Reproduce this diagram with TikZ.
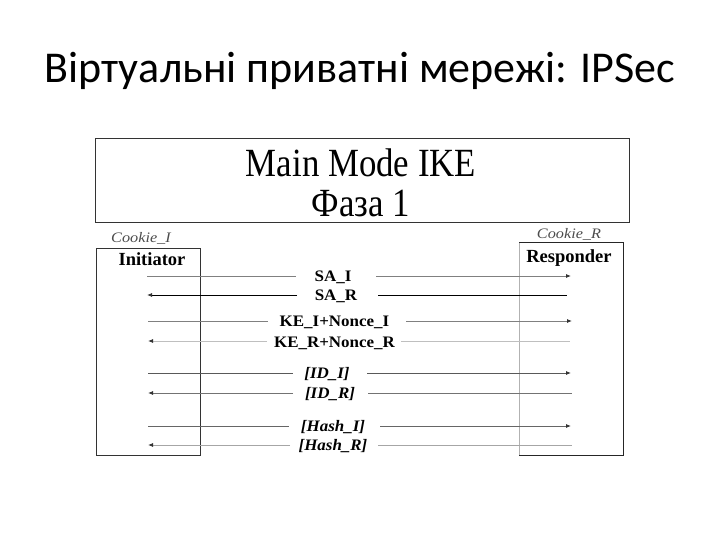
\documentclass[tikz,border=0pt]{standalone}
\usepackage{fontspec}
\setmainfont{Liberation Serif}
\newfontfamily\titlefont{Carlito}
\newfontfamily\diag[FakeStretch=1.06]{Liberation Serif}
\newfontfamily\boxfont[FakeStretch=0.87]{Liberation Serif}
\newfontfamily\cookiefont[FakeStretch=1.12]{Liberation Serif}
\usetikzlibrary{arrows.meta}
\begin{document}
\begin{tikzpicture}[x=1pt,y=-1pt,
  msg/.style={line width=0.8pt},
  arr/.style={msg, -{Latex[length=5pt,width=4pt,fill=black!80,color=black!80]}},
  lbl/.style={inner sep=0pt, anchor=base, font=\diag\fontsize{16}{16}\selectfont\bfseries},
  ilbl/.style={lbl, font=\diag\fontsize{16}{16}\selectfont\bfseries\itshape},
  party/.style={inner sep=0pt, anchor=base, font=\fontsize{18.5}{18.5}\selectfont\bfseries},
  cookie/.style={inner sep=0pt, anchor=base, font=\cookiefont\fontsize{14.5}{14.5}\selectfont\itshape, text=black!70},
  heading/.style={inner sep=0pt, anchor=base, font=\boxfont\fontsize{40}{40}\selectfont}]
\useasboundingbox (0,0) rectangle (720,540);
\node[font=\titlefont\fontsize{44}{44}\selectfont, anchor=base, inner sep=0pt] (title) at (360,83) {Віртуальні приватні мережі: IPSec};
% top box
\coordinate (tl) at (95,138); \coordinate (br) at (629,222);
\draw[black!80, line width=0.7pt] (tl) rectangle (br);
\node[heading] (mm1) at (361,176.5) {Main Mode IKE};
\node[heading] (mm2) at (361,216.5) {Фаза 1};
% initiator box
\coordinate (i1) at (96,248); \coordinate (i2) at (200,455);
\draw[black!80, line width=0.7pt] (i1) rectangle (i2);
% responder box
\coordinate (r1) at (519,242); \coordinate (r2) at (623,455);
\draw[black!30, line width=0.6pt] (r1) -- (r1 |- r2);
\draw[black!85, line width=0.7pt] (r1) -| (r2) -- (r1 |- r2);
\node[cookie] (ci) at (141,243) {Cookie\_I};
\node[cookie] (cr) at (569,238) {Cookie\_R};
\node[party] (initl) at (152,265.5) {Initiator};
\node[party] (resl) at (569,262) {Responder};
% messages
\node[lbl] (m1) at (333,281) {SA\_I};
\coordinate (a1) at (147,276); \coordinate (c1) at (296,276);
\coordinate (d1) at (376,276); \coordinate (b1) at (571,276);
\draw[msg, black!50] (a1) -- (c1);
\draw[arr, black!50] (d1) -- (b1);
\node[lbl] (m2) at (336,300) {SA\_R};
\coordinate (a2) at (147,295); \coordinate (c2) at (297,295);
\coordinate (d2) at (378,295); \coordinate (b2) at (567,295);
\draw[arr, black] (c2) -- (a2);
\draw[msg, black] (d2) -- (b2);
\node[lbl] (m3) at (334.5,326) {KE\_I+Nonce\_I};
\coordinate (a3) at (148,321); \coordinate (c3) at (268,321);
\coordinate (d3) at (406,321); \coordinate (b3) at (572,321);
\draw[msg, black!50] (a3) -- (c3);
\draw[arr, black!50] (d3) -- (b3);
\node[lbl] (m4) at (334.5,347) {KE\_R+Nonce\_R};
\coordinate (a4) at (148,341); \coordinate (c4) at (267,341);
\coordinate (d4) at (401,341); \coordinate (b4) at (570,341);
\draw[arr, black!25] (c4) -- (a4);
\draw[msg, black!25] (d4) -- (b4);
\node[ilbl] (m5) at (327,378) {[ID\_I]};
\coordinate (a5) at (148,373); \coordinate (c5) at (293,373);
\coordinate (d5) at (367,373); \coordinate (b5) at (571,373);
\draw[msg, black!65] (a5) -- (c5);
\draw[arr, black!65] (d5) -- (b5);
\node[ilbl] (m6) at (330,398) {[ID\_R]};
\coordinate (a6) at (148,393); \coordinate (c6) at (293,393);
\coordinate (d6) at (368,393); \coordinate (b6) at (572,393);
\draw[arr, black!55] (c6) -- (a6);
\draw[msg, black!55] (d6) -- (b6);
\node[ilbl] (m7) at (333,431) {[Hash\_I]};
\coordinate (a7) at (148,426); \coordinate (c7) at (289,426);
\coordinate (d7) at (380,426); \coordinate (b7) at (571,426);
\draw[msg, black!60] (a7) -- (c7);
\draw[arr, black!60] (d7) -- (b7);
\node[ilbl] (m8) at (333,450) {[Hash\_R]};
\coordinate (a8) at (148,445); \coordinate (c8) at (290,445);
\coordinate (d8) at (378,445); \coordinate (b8) at (572,445);
\draw[arr, black!35] (c8) -- (a8);
\draw[msg, black!35] (d8) -- (b8);
\end{tikzpicture}
\end{document}
